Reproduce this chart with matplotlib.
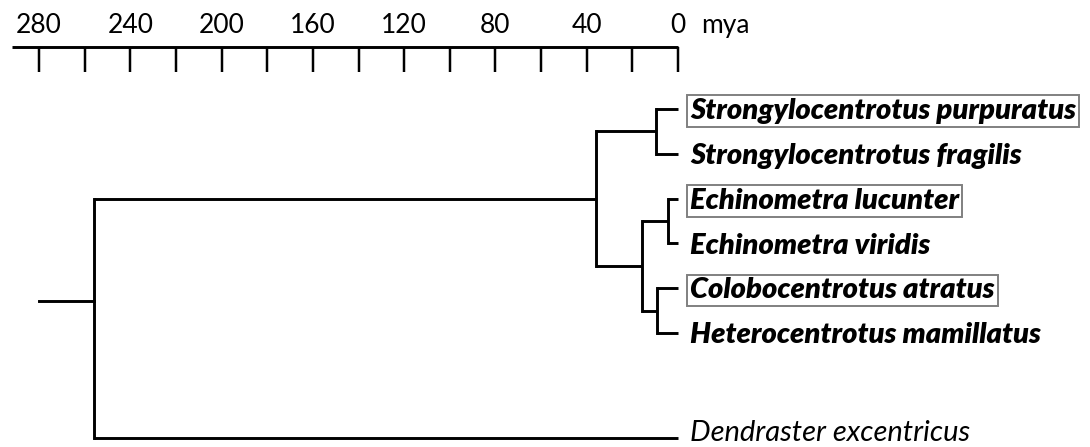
import matplotlib
matplotlib.use("Agg")
import matplotlib.pyplot as plt

# tips, top to bottom
tip_names = ["Strongylocentrotus purpuratus", "Strongylocentrotus fragilis",
             "Echinometra lucunter", "Echinometra viridis",
             "Colobocentrotus atratus", "Heterocentrotus mamillatus",
             "Dendraster excentricus"]
tip_rows = [0, 1, 2, 3, 4, 5, 7.34]
tip_boxed = [True, False, True, False, True, False, False]
tip_bold = [True, True, True, True, True, True, False]

# node = (age in mya, [children]); ints are tip indices
tree = (256, [(36, [(9.6, [0, 1]),
                    (16, [(4.6, [2, 3]), (9.4, [4, 5])])]),
              6])
root_stem_age = 280
root_stem_row = 4.29

scale_ticks = list(range(0, 281, 20))
scale_labels = list(range(0, 281, 40))
scale_start = 292

LW = 2.1
plt.rcParams['font.family'] = ['Lato', 'DejaVu Sans']

fig = plt.figure(figsize=(10.9, 4.47), dpi=100)
ax = fig.add_axes([0, 0, 1, 1])
ax.set_xlim(297.1, -180.5)
ax.set_ylim(7.545, -2.433)
ax.axis('off')


def draw(node):
    # returns row of node
    if isinstance(node, int):
        return tip_rows[node]
    age, kids = node
    rows = []
    for k in kids:
        r = draw(k)
        kage = 0 if isinstance(k, int) else k[0]
        ax.plot([age, kage], [r, r], color='black', lw=LW, solid_capstyle='butt')
        rows.append(r)
    ax.plot([age, age], [min(rows), max(rows)], color='black', lw=LW, solid_capstyle='projecting')
    return (min(rows) + max(rows)) / 2


draw(tree)
ax.plot([root_stem_age, tree[0]], [root_stem_row, root_stem_row], color='black', lw=LW)

for name, r, boxed, bold in zip(tip_names, tip_rows, tip_boxed, tip_bold):
    kw = dict(fontsize=21, style='italic', va='center', ha='left',
              fontweight='heavy' if bold else 'normal')
    if boxed:
        kw['bbox'] = dict(boxstyle='square,pad=0.1', fc='white', ec='#808080', lw=1.4)
    dy = 0.05 if bold else -0.1
    ax.text(-5.4, r + dy, name, **kw)

# time scale
ax.plot([scale_start, 0], [-1.384, -1.384], color='black', lw=LW, solid_capstyle='butt')
for t in scale_ticks:
    ax.plot([t, t], [-1.384, -0.826], color='black', lw=LW * 0.85, solid_capstyle='butt')
for t in scale_labels:
    ax.text(t, -1.86, str(t), fontsize=19, ha='center', va='center')
ax.text(-10, -1.86, "mya", fontsize=19, ha='left', va='center')

fig.savefig("out.png", dpi=100)
